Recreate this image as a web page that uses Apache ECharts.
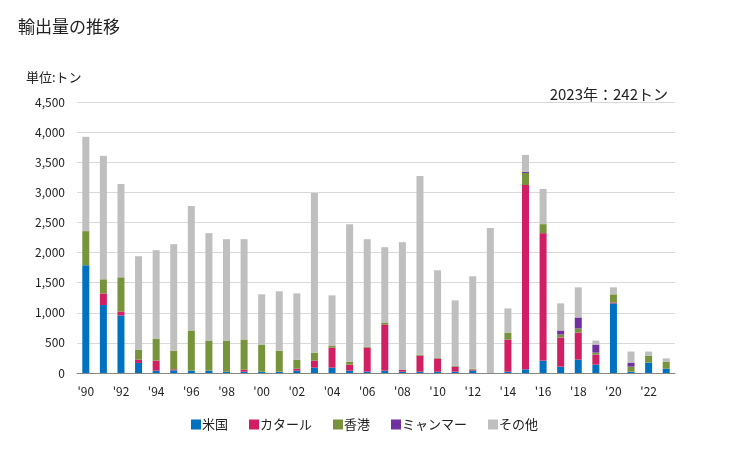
<!DOCTYPE html>
<html><head><meta charset="utf-8">
<script src="https://cdn.jsdelivr.net/npm/echarts@6/dist/echarts.min.js"></script>
<style>html,body{margin:0;padding:0;background:#fff}#c{width:729px;height:450px}</style>
</head><body><div id="c"></div>
<script>
const years = [1990,1991,1992,1993,1994,1995,1996,1997,1998,1999,2000,2001,2002,2003,2004,2005,2006,2007,2008,2009,2010,2011,2012,2013,2014,2015,2016,2017,2018,2019,2020,2021,2022,2023];
const usa     = [1789,1128,956,167,39,44,39,39,22,22,22,22,39,89,89,39,22,39,22,22,22,22,39,0,22,61,206,106,222,139,1156,22,172,72];
const qatar   = [0,194,66,55,167,17,0,0,0,34,0,0,33,117,333,100,400,767,34,267,217,84,17,0,534,3061,2116,483,450,167,16,0,0,0];
const hongkong= [567,234,567,167,366,311,667,500,517,500,450,350,150,133,34,50,17,33,0,17,17,16,16,0,116,200,150,50,67,33,134,84,117,117];
const myanmar = [0,0,0,0,0,0,0,0,0,0,0,0,0,0,0,0,0,0,0,0,0,0,0,0,0,17,0,67,183,133,0,66,0,0];
const others  = [1566,2050,1550,1550,1467,1767,2066,1783,1683,1666,834,984,1100,2650,833,2283,1783,1250,2116,2966,1450,1084,1534,2406,400,283,584,450,500,67,116,184,67,53];
const yTicks = [0,500,1000,1500,2000,2500,3000,3500,4000,4500];

const chart = echarts.init(document.getElementById('c'));
const font = '"Noto Sans CJK JP", "Noto Sans", sans-serif';
function s(name, data, color){
  return {name, type:'bar', stack:'t', data, barWidth:7, itemStyle:{color}, emphasis:{disabled:true}};
}
chart.setOption({
  animation:false,
  textStyle:{fontFamily:font},
  title:[
    {text:'輸出量の推移', left:13, top:13, textStyle:{fontSize:17, fontWeight:'normal', color:'#222', fontFamily:font}},
    {text:'単位:トン', left:21, top:66, textStyle:{fontSize:13, fontWeight:'normal', color:'#222', fontFamily:font}},
    {text:'2023年：242トン', right:56, top:82, textStyle:{fontSize:15, fontWeight:'normal', color:'#222', fontFamily:font}}
  ],
  grid:{left:77, right:54, top:102, bottom:77},
  legend:{bottom:14, left:'center', itemWidth:10, itemHeight:10, itemGap:21, icon:'rect',
    textStyle:{fontSize:13, color:'#222', fontFamily:font, padding:[0,0,0,-4]},
    data:['米国','カタール','香港','ミャンマー','その他']},
  xAxis:{type:'category', data:years,
    axisTick:{show:false}, axisLine:{lineStyle:{color:'#888'}},
    axisLabel:{interval:0, fontSize:12, color:'#222', margin:12,
      formatter:(v,i)=> (i%2===0 ? "'"+String(v).slice(2) : '')}},
  yAxis:{type:'value', min:yTicks[0], max:yTicks[yTicks.length-1], interval:500,
    axisLabel:{fontSize:12, color:'#222', margin:12, formatter:v=>v.toLocaleString('en-US')},
    splitLine:{lineStyle:{color:'#d9d9d9', width:1}}},
  series:[
    s('米国', usa, '#0070C0'),
    s('カタール', qatar, '#D01F62'),
    s('香港', hongkong, '#77933C'),
    s('ミャンマー', myanmar, '#7030A0'),
    s('その他', others, '#BFBFBF')
  ]
});
</script></body></html>
